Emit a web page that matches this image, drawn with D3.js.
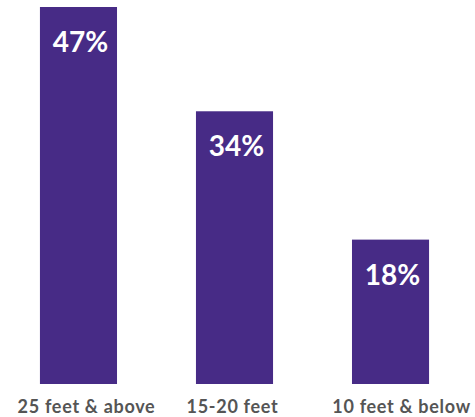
<!DOCTYPE html>
<html>
<head>
<meta charset="utf-8">
<script src="https://cdn.jsdelivr.net/npm/d3@7"></script>
<style>
  body { margin: 0; background: #fff; }
  svg { display: block; }
</style>
</head>
<body>
<svg id="chart"></svg>
<script>
const width = 475;
const height = 417;

// data
const categories = ["25 feet & above", "15-20 feet", "10 feet & below"];
const values = [47, 34, 18];

const baseY = 384;

const svg = d3.select("#chart")
  .attr("width", width)
  .attr("height", height);

const xScale = d3.scaleBand()
  .domain(categories)
  .range([0, 469])
  .paddingInner(0.506)
  .paddingOuter(0.256);

const yScale = d3.scaleLinear()
  .domain([0, 47])
  .range([baseY, 7]);

// bars
svg.selectAll("rect.bar")
  .data(categories)
  .join("rect")
  .attr("class", "bar")
  .attr("x", d => xScale(d))
  .attr("y", (d, i) => yScale(values[i]))
  .attr("width", xScale.bandwidth())
  .attr("height", (d, i) => baseY - yScale(values[i]))
  .attr("fill", "#472b86");

// value labels inside bars
svg.selectAll("text.value")
  .data(categories)
  .join("text")
  .attr("class", "value")
  .attr("x", d => xScale(d) + xScale.bandwidth() / 2 + 2)
  .attr("y", (d, i) => yScale(values[i]) + 45)
  .attr("text-anchor", "middle")
  .attr("fill", "#fff")
  .style("font-family", "Lato, sans-serif")
  .style("font-weight", "bold")
  .style("font-size", "28px")
  .text((d, i) => values[i] + "%");

// category labels (bottom axis, no line)
const xAxis = svg.append("g")
  .attr("transform", "translate(0," + baseY + ")")
  .call(d3.axisBottom(xScale).tickSize(0).tickPadding(16));
xAxis.select(".domain").remove();
xAxis.selectAll("text")
  .attr("fill", "#555")
  .attr("dx", (d, i) => [8, -2, 11][i])
  .style("font-family", "Lato, sans-serif")
  .style("font-weight", "bold")
  .style("font-size", "18px")
  .style("letter-spacing", "0.7px");
</script>
</body>
</html>
